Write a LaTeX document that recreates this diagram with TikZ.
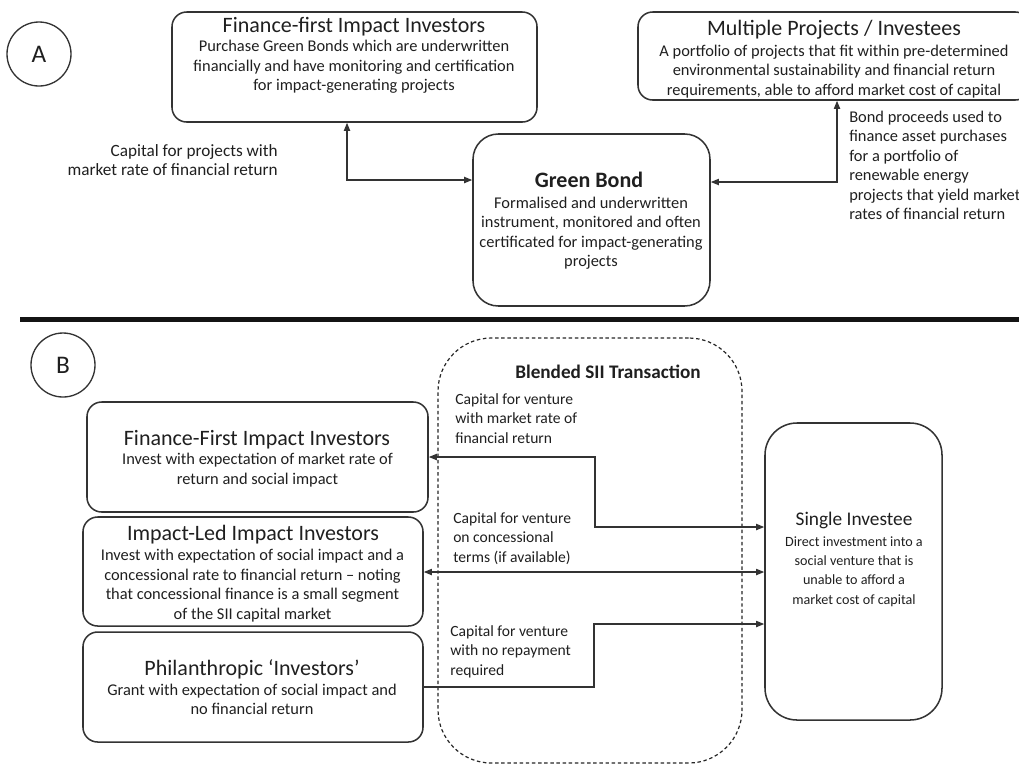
\documentclass[tikz,border=0pt]{standalone}
\usepackage{fontspec}
\setmainfont{Carlito}
\usetikzlibrary{arrows.meta,fit}
\begin{document}
\begin{tikzpicture}[x=0.75pt,y=-0.75pt,
  >={Triangle[length=6pt,width=4.6pt]},
  box/.style={draw=black!80, line width=1.15pt, rounded corners=#1, inner sep=0pt},
  box/.default=11pt,
  ttl/.style={font=\fontsize{16.5}{19}\selectfont, align=center, inner sep=0pt, text=black!88, yshift=-1.8pt},
  bttl/.style={font=\fontsize{16.5}{19}\selectfont\bfseries, align=center, inner sep=0pt, text=black!88},
  body/.style={font=\fontsize{12.3}{14.6}\selectfont, align=center, inner sep=0pt, text=black!88},
  lbl/.style={font=\fontsize{12.3}{14.6}\selectfont, inner sep=0pt, text=black!88},
  tag/.style={circle, draw=black!80, line width=1pt, minimum size=48pt, inner sep=0pt,
              font=\fontsize{19}{22}\selectfont, text=black!88},
  conn/.style={draw=black!80, line width=1pt}]
\useasboundingbox (0,0) rectangle (1019,765);

% ---------------- Part A ----------------
\node[tag] (tagA) at (39,54) {A};

\node[box, fit={(172,12) (537,122)}] (ffA) {};
\node[ttl] (ffAt) at (354,24) {Finance-first Impact Investors};
\node[body] (ffAb) at (354,67) {Purchase Green Bonds which are underwritten\\
  financially and have monitoring and certification\\ for impact-generating projects};

\node[box, fit={(638,12) (1030,100)}] (mp) {};
\node[ttl] (mpt) at (834,27) {Multiple Projects / Investees};
\node[body] (mpb) at (834,71.5) {A portfolio of projects that fit within pre-determined\\
  environmental sustainability and financial return\\ requirements, able to afford market cost of capital};

\node[box=19pt, fit={(473,134) (710,306)}] (gb) {};
\node[bttl] (gbt) at (589,180) {Green Bond};
\node[body] (gbb) at (591,233) {Formalised and underwritten\\ instrument, monitored and often\\
  certificated for impact-generating\\ projects};

\node[lbl, font=\fontsize{12.9}{14.6}\selectfont, align=right, anchor=east] (labA1) at (278,160)
  {Capital for projects with\\ market rate of financial return};
\node[lbl, align=left, anchor=west] (labA2) at (849,165.5) {Bond proceeds used to\\ finance asset purchases\\
  for a portfolio of\\ renewable energy\\ projects that yield market\\ rates of financial return};

\coordinate (kA1) at (347,180);
\coordinate (kA2) at (837,182);
\draw[conn, <->] (ffA.south -| kA1) |- (gb.west |- kA1);
\draw[conn, <->] (mp.south -| kA2) |- (gb.east |- kA2);

% separator between the two parts
\draw[line width=3.8pt, black!92] (20,319.5) coordinate (sepL) -- (1019,319.5) coordinate (sepR);

% ---------------- Part B ----------------
\node[tag] (tagB) at (63,365) {B};

\node[fit={(438,338) (742,763)}, draw=black!85, line width=0.9pt, dash pattern=on 2.6pt off 2pt,
      rounded corners=40pt, inner sep=0pt] (blend) {};
\node[bttl, font=\fontsize{14.4}{17}\selectfont\bfseries] (blendt) at (608,372) {Blended SII Transaction};

\node[box, fit={(87,402) (428,512)}] (ffB) {};
\node[ttl] (ffBt) at (257,437) {Finance-First Impact Investors};
\node[body] (ffBb) at (257.5,470) {Invest with expectation of market rate of\\ return and social impact};

\node[box, fit={(83,517) (423,626)}] (ilB) {};
\node[ttl] (ilBt) at (253,532) {Impact-Led Impact Investors};
\node[body] (ilBb) at (252.5,585.5) {Invest with expectation of social impact and a\\
  concessional rate to financial return -- noting\\ that concessional finance is a small segment\\ of the SII capital market};

\node[box, fit={(83,632) (423,742)}] (phB) {};
\node[ttl] (phBt) at (252,667) {Philanthropic ‘Investors’};
\node[body] (phBb) at (252,699.5) {Grant with expectation of social impact and\\ no financial return};

\node[box=24pt, fit={(765,423) (942,720)}] (si) {};
\node[ttl, font=\fontsize{14.5}{17}\selectfont] (sit) at (854,518) {Single Investee};
\node[body, font=\fontsize{10.6}{14.6}\selectfont] (sib) at (854,571.5) {Direct investment into a\\ social venture that is\\ unable to afford a\\ market cost of capital};

\node[lbl, font=\fontsize{11.7}{14.6}\selectfont, align=left, anchor=west] (labB1) at (455,418.5) {Capital for venture\\ with market rate of\\ financial return};
\node[lbl, font=\fontsize{11.7}{14.6}\selectfont, align=left, anchor=west] (labB2) at (453,538.5) {Capital for venture\\ on concessional\\ terms (if available)};
\node[lbl, font=\fontsize{11.7}{14.6}\selectfont, align=left, anchor=west] (labB3) at (450,651.5) {Capital for venture\\ with no repayment\\ required};

\coordinate (kB1) at (595,457);
\coordinate (kB1b) at (595,527);
\coordinate (kB2) at (600,572);
\coordinate (kB3) at (594,687);
\coordinate (kB3b) at (594,624);
\draw[conn, <->] (ffB.east |- kB1) -| (kB1b) -- (si.west |- kB1b);
\draw[conn, <->] (ilB.east |- kB2) -- (si.west |- kB2);
\draw[conn, ->] (phB.east |- kB3) -| (kB3b) -- (si.west |- kB3b);
\end{tikzpicture}
\end{document}
